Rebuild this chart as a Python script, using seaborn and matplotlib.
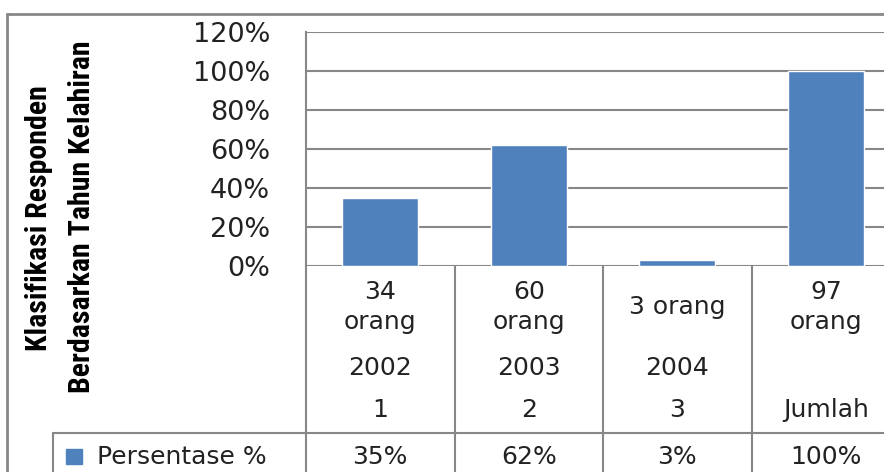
import seaborn as sns
import pandas as pd
import matplotlib.pyplot as plt
from matplotlib.lines import Line2D
from matplotlib.patches import Rectangle
from matplotlib.transforms import blended_transform_factory

# Data
kategori = ["1", "2", "3", "Jumlah"]
jumlah_orang = ["34\norang", "60\norang", "3 orang", "97\norang"]
tahun = ["2002", "2003", "2004", ""]
persentase = [0.35, 0.62, 0.03, 1.00]
persen_label = ["35%", "62%", "3%", "100%"]
yticks = [0, 0.2, 0.4, 0.6, 0.8, 1.0, 1.2]

df = pd.DataFrame({"kategori": kategori, "persentase": persentase})

W, H = 884, 472
BLUE = "#4F81BD"
GRID = "#878787"
TXT = "#222222"
FS = 18

sns.set_style("white")
plt.rcParams["font.family"] = ["DejaVu Sans"]

fig = plt.figure(figsize=(W / 100, H / 100), dpi=100)

# axes in pixel layout (right side runs past the picture, as in the source)
left, right, top, bottom = 306, 900, 32, 266
ax = fig.add_axes([left / W, 1 - bottom / H, (right - left) / W, (bottom - top) / H])

sns.barplot(data=df, x="kategori", y="persentase", order=kategori,
            color=BLUE, width=0.51, saturation=1, ax=ax, zorder=3)

ax.set_xlim(-0.5, len(kategori) - 0.5)
ax.set_ylim(0, 1.2)
ax.set_yticks(yticks)
ax.set_yticklabels([f"{int(round(v * 100))}%" for v in yticks], fontsize=19.5, color=TXT)
ax.tick_params(axis="y", length=0, pad=26)
ax.set_xticks([])
ax.set_xlabel("")
ax.set_ylabel("")
ax.grid(axis="y", color=GRID, linewidth=1.5, zorder=0)
for s in ["top", "right", "bottom"]:
    ax.spines[s].set_visible(False)
ax.spines["left"].set_color(GRID)
ax.spines["left"].set_linewidth(1.5)

# data table below the axes
ph = bottom - top
def ay(ypix):
    return -(ypix - bottom) / ph

tr = blended_transform_factory(ax.transData, ax.transAxes)
for i in range(len(kategori) + 1):
    ax.add_line(Line2D([i - 0.5, i - 0.5], [0, ay(H + 10)], transform=tr,
                       color=GRID, lw=1.5, clip_on=False))
ax.add_line(Line2D([-0.5, len(kategori) + 0.5], [ay(433), ay(433)], transform=tr,
                   color=GRID, lw=1.5, clip_on=False))

for i in range(len(kategori)):
    ax.text(i, ay(307), jumlah_orang[i], transform=tr, ha="center", va="center",
            fontsize=FS, linespacing=1.3, color=TXT)
    ax.text(i, ay(368), tahun[i], transform=tr, ha="center", va="center",
            fontsize=FS, color=TXT)
    ax.text(i, ay(410), kategori[i], transform=tr, ha="center", va="center",
            fontsize=FS, color=TXT)
    ax.text(i, ay(457), persen_label[i], transform=tr, ha="center", va="center",
            fontsize=FS, color=TXT)

# legend cell of the data table
def fx(x):
    return x / W
def fy(y):
    return 1 - y / H

fig.add_artist(Line2D([fx(53), fx(left)], [fy(433), fy(433)], color=GRID, lw=1.5))
fig.add_artist(Line2D([fx(53), fx(53)], [fy(433), fy(H + 5)], color=GRID, lw=1.5))
fig.add_artist(Rectangle((fx(66), fy(464)), fx(16), 15 / H, color=BLUE))
fig.text(fx(97), fy(457), "Persentase %", ha="left", va="center", fontsize=FS, color=TXT)

# outer chart border
fig.add_artist(Line2D([fx(7), fx(7)], [fy(14), fy(H + 5)], color=GRID, lw=2))
fig.add_artist(Line2D([fx(7), fx(W + 5)], [fy(14), fy(14)], color=GRID, lw=2))

# y axis title
title_font = ["Roboto Condensed", "Liberation Sans Narrow", "Liberation Sans"]
fig.text(fx(39), fy(218), "Klasifikasi Responden", rotation=90, ha="center", va="center",
         fontsize=21.5, fontweight="bold", family=title_font, color="black")
fig.text(fx(82), fy(217), "Berdasarkan Tahun Kelahiran", rotation=90, ha="center", va="center",
         fontsize=21.5, fontweight="bold", family=title_font, color="black")

fig.savefig("out.png", dpi=100)
